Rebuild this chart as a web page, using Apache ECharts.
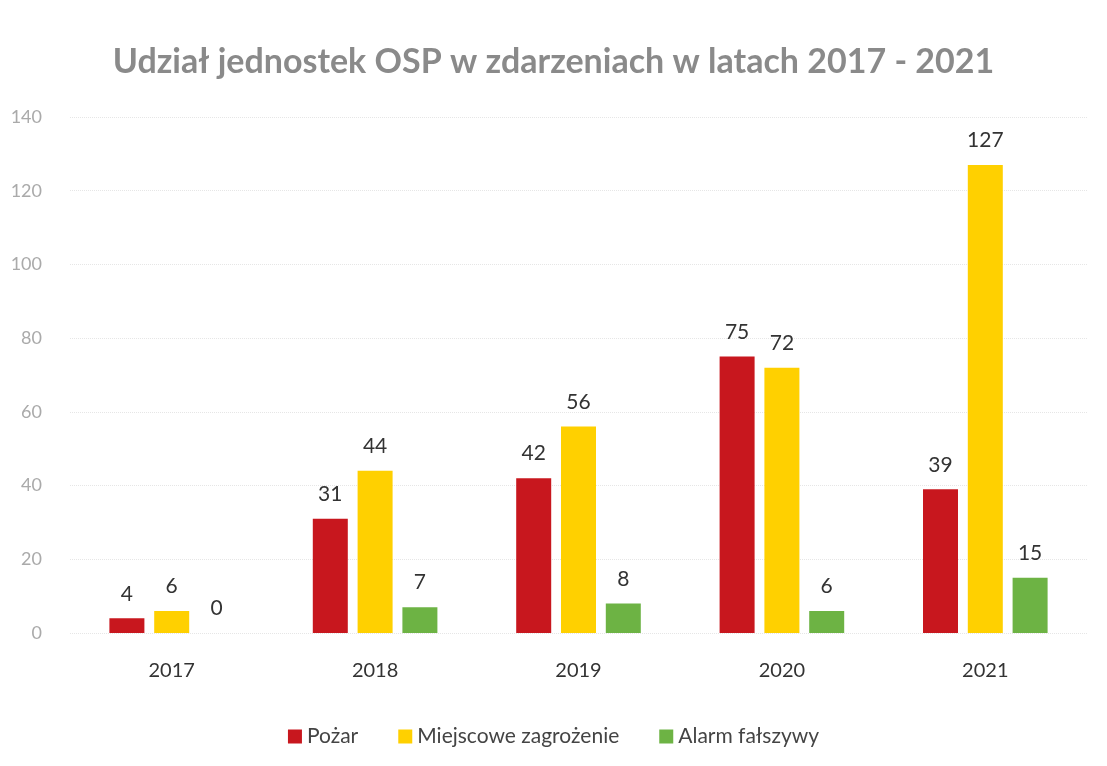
<!DOCTYPE html>
<html>
<head>
<meta charset="utf-8">
<script src="https://cdn.jsdelivr.net/npm/echarts@6/dist/echarts.min.js"></script>
<style>
  html, body { margin: 0; padding: 0; background: #fff; }
  #chart { width: 1107px; height: 766px; }
</style>
</head>
<body>
<div id="chart"></div>
<script>
const years = ['2017', '2018', '2019', '2020', '2021']
const pozar = [4, 31, 42, 75, 39]
const miejscowe = [6, 44, 56, 72, 127]
const alarm = [0, 7, 8, 6, 15]
const seriesNames = ['Pożar', 'Miejscowe zagrożenie', 'Alarm fałszywy']

const font = 'Lato, "Open Sans", sans-serif'

let labelStyle = {
  show: true,
  position: 'top',
  distance: 14,
  color: '#333',
  fontSize: 21,
  fontFamily: font
}

let myChart = echarts.init(document.getElementById('chart'))

let option = {
  backgroundColor: '#fff',
  title: {
    text: 'Udział jednostek OSP w zdarzeniach w latach 2017 - 2021',
    left: 'center',
    top: 40,
    textStyle: {
      color: '#8a8a8a',
      fontSize: 34,
      fontWeight: 'bold',
      fontFamily: font
    }
  },
  legend: {
    bottom: 14,
    left: 'center',
    itemWidth: 14,
    itemHeight: 14,
    itemGap: 40,
    icon: 'rect',
    textStyle: { color: '#444', fontSize: 21, fontFamily: font },
    data: seriesNames
  },
  grid: {
    left: 70,
    right: 20,
    top: 117,
    bottom: 133,
    containLabel: false
  },
  xAxis: {
    type: 'category',
    data: years,
    axisLine: { show: false },
    axisTick: { show: false },
    axisLabel: { color: '#333', fontSize: 20, fontFamily: font, margin: 28 }
  },
  yAxis: {
    type: 'value',
    min: 0,
    max: 140,
    interval: 20,
    axisLabel: { color: '#aaa', fontSize: 18, fontFamily: font, margin: 28 },
    splitLine: { lineStyle: { color: '#e6e6e6', type: 'dotted' } }
  },
  series: [
    {
      name: seriesNames[0],
      type: 'bar',
      data: pozar,
      barWidth: 35,
      barGap: '28%',
      itemStyle: { color: '#c8171e' },
      label: labelStyle
    },
    {
      name: seriesNames[1],
      type: 'bar',
      data: miejscowe,
      barWidth: 35,
      itemStyle: { color: '#ffd000' },
      label: labelStyle
    },
    {
      name: seriesNames[2],
      type: 'bar',
      data: alarm,
      barWidth: 35,
      itemStyle: { color: '#6db344' },
      label: labelStyle
    }
  ]
}

myChart.setOption(option)
</script>
</body>
</html>
